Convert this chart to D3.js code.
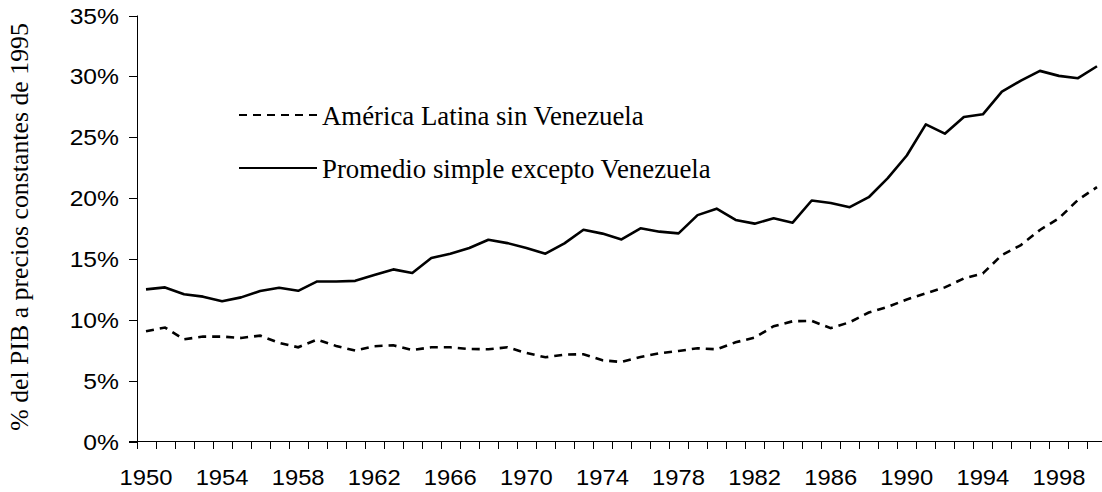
<!DOCTYPE html>
<html>
<head>
<meta charset="utf-8">
<script src="https://cdn.jsdelivr.net/npm/d3@7"></script>
<style>
  body { margin: 0; background: #fff; }
  svg { display: block; }
</style>
</head>
<body>
<script>
'use strict';

// categories: one per year
const years = d3.range(1950, 2001);
const yearLabels = [1950, 1954, 1958, 1962, 1966, 1970, 1974, 1978, 1982, 1986, 1990, 1994, 1998];
const yTicks = [0, 5, 10, 15, 20, 25, 30, 35];

// América Latina sin Venezuela (dashed)
const latamValues = [9.06, 9.36, 8.4, 8.62, 8.62, 8.51, 8.7, 8.1, 7.74, 8.37,
  7.85, 7.47, 7.83, 7.9, 7.52, 7.74, 7.74, 7.6, 7.58, 7.74,
  7.27, 6.92, 7.14, 7.17, 6.67, 6.53, 6.94, 7.25, 7.44, 7.66,
  7.58, 8.15, 8.54, 9.47, 9.88, 9.91, 9.31, 9.8, 10.6, 11.06,
  11.67, 12.17, 12.66, 13.4, 13.81, 15.32, 16.14, 17.38, 18.34, 19.85,
  20.9];

// Promedio simple excepto Venezuela (solid)
const simpleValues = [12.5, 12.66, 12.1, 11.9, 11.53, 11.84, 12.36, 12.63, 12.38, 13.15,
  13.15, 13.2, 13.67, 14.14, 13.84, 15.07, 15.43, 15.9, 16.58, 16.3,
  15.9, 15.43, 16.28, 17.4, 17.08, 16.6, 17.52, 17.24, 17.1, 18.6,
  19.13, 18.2, 17.9, 18.34, 17.98, 19.8, 19.6, 19.25, 20.07, 21.64,
  23.5, 26.05, 25.29, 26.66, 26.88, 28.75, 29.65, 30.45, 30.04, 29.85,
  30.83];

const seriesNames = ["América Latina sin Venezuela", "Promedio simple excepto Venezuela"];

const width = 1102, height = 492;
const sansFont = "'Liberation Sans', Arial, sans-serif";
const serifFont = "'Liberation Serif', 'Times New Roman', serif";

const svg = d3.select('body')
  .append('svg')
  .attr('width', width)
  .attr('height', height);

// band scale for the category axis (chart is cut at the right edge)
const xScale = d3.scaleBand()
  .domain(years)
  .range([136.5, 1106.5])
  .padding(0);

const yScale = d3.scaleLinear()
  .domain([0, 35])
  .range([441.5, 15.5]);

const xCenter = (d) => xScale(d) + xScale.bandwidth() / 2;

// stretch text a little wider, the original glyphs are wider than ours
function widen(selection, factor) {
  selection.each(function() {
    const w = this.getComputedTextLength();
    d3.select(this)
      .attr('textLength', w * factor)
      .attr('lengthAdjust', 'spacingAndGlyphs');
  });
}

// y axis
const yAxis = svg.append('g');
yAxis.append('line')
  .attr('x1', 137.5).attr('x2', 137.5)
  .attr('y1', yScale(35)).attr('y2', yScale(0))
  .attr('stroke', '#000');

yAxis.selectAll('.ytick')
  .data(yTicks)
  .enter()
  .append('line')
    .attr('x1', 129).attr('x2', 137.5)
    .attr('y1', d => Math.round(yScale(d)) + 0.5)
    .attr('y2', d => Math.round(yScale(d)) + 0.5)
    .attr('stroke', '#000');

yAxis.selectAll('.ylabel')
  .data(yTicks)
  .enter()
  .append('text')
    .attr('x', 119)
    .attr('y', d => yScale(d) + 8)
    .attr('text-anchor', 'end')
    .style('font-family', sansFont)
    .style('font-size', '22px')
    .text(d => d + '%')
    .call(widen, 1.12);

// x axis: ticks at category boundaries, labels every 4 years
const xAxis = svg.append('g');
xAxis.append('line')
  .attr('x1', 129).attr('x2', width)
  .attr('y1', 441.5).attr('y2', 441.5)
  .attr('stroke', '#000');

xAxis.selectAll('.xtick')
  .data(years)
  .enter()
  .append('line')
    .attr('x1', d => Math.round(xScale(d)) + 0.5)
    .attr('x2', d => Math.round(xScale(d)) + 0.5)
    .attr('y1', 441.5).attr('y2', 449)
    .attr('stroke', '#000');

xAxis.selectAll('.xlabel')
  .data(yearLabels)
  .enter()
  .append('text')
    .attr('x', d => xCenter(d))
    .attr('y', 485)
    .attr('text-anchor', 'middle')
    .style('font-family', sansFont)
    .style('font-size', '22px')
    .text(d => d)
    .call(widen, 1.08);

// y axis title
svg.append('text')
  .attr('transform', 'translate(28, 227)rotate(-90)')
  .attr('text-anchor', 'middle')
  .style('font-family', serifFont)
  .style('font-size', '25.8px')
  .style('fill', '#000')
  .text('% del PIB a precios constantes de 1995');

// lines
const line = (values) => d3.line()
  .x((d, i) => xCenter(years[i]))
  .y(d => yScale(d))(values);

svg.append('path')
  .attr('d', line(latamValues))
  .attr('fill', 'none')
  .attr('stroke', '#000')
  .attr('stroke-width', 2.6)
  .attr('stroke-dasharray', '8,6');

svg.append('path')
  .attr('d', line(simpleValues))
  .attr('fill', 'none')
  .attr('stroke', '#000')
  .attr('stroke-width', 2.6)
  .attr('stroke-linejoin', 'round');

// legend
const legend = svg.append('g');
const legendRows = [
  { name: seriesNames[0], dash: '8,6', y: 115 },
  { name: seriesNames[1], dash: null, y: 168 }
];

legend.selectAll('line')
  .data(legendRows)
  .enter()
  .append('line')
    .attr('x1', 239).attr('x2', 317)
    .attr('y1', d => d.y).attr('y2', d => d.y)
    .attr('stroke', '#000')
    .attr('stroke-width', 2)
    .attr('stroke-dasharray', d => d.dash);

legend.selectAll('text')
  .data(legendRows)
  .enter()
  .append('text')
    .attr('x', 322)
    .attr('y', d => d.y + 10)
    .style('font-family', serifFont)
    .style('font-size', '26.8px')
    .text(d => d.name);
</script>
</body>
</html>
